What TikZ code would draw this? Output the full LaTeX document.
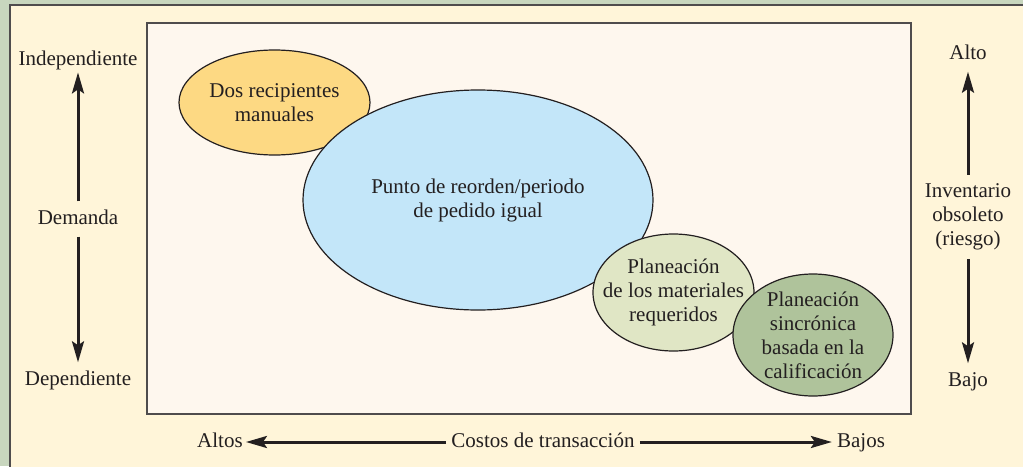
\documentclass[tikz,border=0pt]{standalone}
\usepackage{fontspec}
\setmainfont{Liberation Serif}
\usepackage{tikz}
\usetikzlibrary{arrows.meta, positioning, shapes.geometric}

\definecolor{frame}{HTML}{C8D6BE}
\definecolor{panel}{HTML}{FFF5D9}
\definecolor{chart}{HTML}{FEF7EE}
\definecolor{ink}{HTML}{231F20}
\definecolor{twobincol}{HTML}{FDD983}
\definecolor{ropcol}{HTML}{C3E6F9}
\definecolor{mrpcol}{HTML}{E0E6C5}
\definecolor{synccol}{HTML}{AFC39B}

\begin{document}
\begin{tikzpicture}[x=1pt, y=-1pt, every node/.style={font=\fontsize{21}{24}\selectfont, text=ink}, lbl/.style={inner xsep=5pt, inner ysep=8pt, text height=14.5pt, text depth=4.5pt}, stack/.style={align=center, inner ysep=9pt}, blob/.style={draw=ink, ellipse, line width=1.2pt, inner sep=0pt}, axis/.style={-{Stealth[length=21pt, width=12pt, inset=4pt]}, line width=3pt, draw=ink}]
    % Frame
    \useasboundingbox (0,0) rectangle (1023,466);
    \fill[frame] (0,0) rectangle (1023,466);
    \draw[fill=panel, draw=ink!80, line width=1.5pt] (10,5) rectangle (1040,480);
    \draw[fill=chart, draw=ink!80, line width=1.5pt] (147,23) rectangle (911,414);

    % Systems
    \node[blob, fill=twobincol, minimum width=191pt, minimum height=105pt] (twobin) at (274.5,102.5) {};
    \node[blob, fill=ropcol, minimum width=350pt, minimum height=220pt] (rop) at (478,200) {};
    \node[blob, fill=mrpcol, minimum width=161pt, minimum height=117pt] (mrp) at (673.5,292.5) {};
    \node[blob, fill=synccol, minimum width=160pt, minimum height=122pt] (sync) at (813,335) {};
    \node[align=center] (twobintext) at (twobin) {Dos recipientes\\manuales};
    \node[align=center] (roptext) at (rop) {Punto de reorden/periodo\\de pedido igual};
    \node[align=center] (mrptext) at (mrp) {Planeación\\de los materiales\\requeridos};
    \node[align=center] (synctext) at (sync) {Planeación\\sincrónica\\basada en la\\calificación};

    % Demand axis
    \node[lbl] (dem) at (78,219) {Demanda};
    \node[lbl, inner ysep=2pt] (indep) at (78,60.7) {Independiente};
    \node[lbl] (dep) at (78,380) {Dependiente};
    \draw[axis] (dem.north) -- (indep.south);
    \draw[axis] (dem.south) -- (dep.north);

    % Obsolescence axis
    \node[stack] (obs) at (968,217) {Inventario\\obsoleto\\(riesgo)};
    \node[lbl] (alto) at (968,54) {Alto};
    \node[lbl] (bajo) at (968,381) {Bajo};
    \draw[axis] (obs.north) -- (alto.south);
    \draw[axis] (obs.south) -- (bajo.north);

    % Cost axis
    \node[lbl] (costos) at (543,442) {Costos de transacción};
    \node[lbl, inner xsep=3pt] (altos) at (220,442) {Altos};
    \node[lbl] (bajos) at (861,442) {Bajos};
    \draw[axis] (costos.west) -- (altos.east);
    \draw[axis] (costos.east) -- (bajos.west);
\end{tikzpicture}
\end{document}
